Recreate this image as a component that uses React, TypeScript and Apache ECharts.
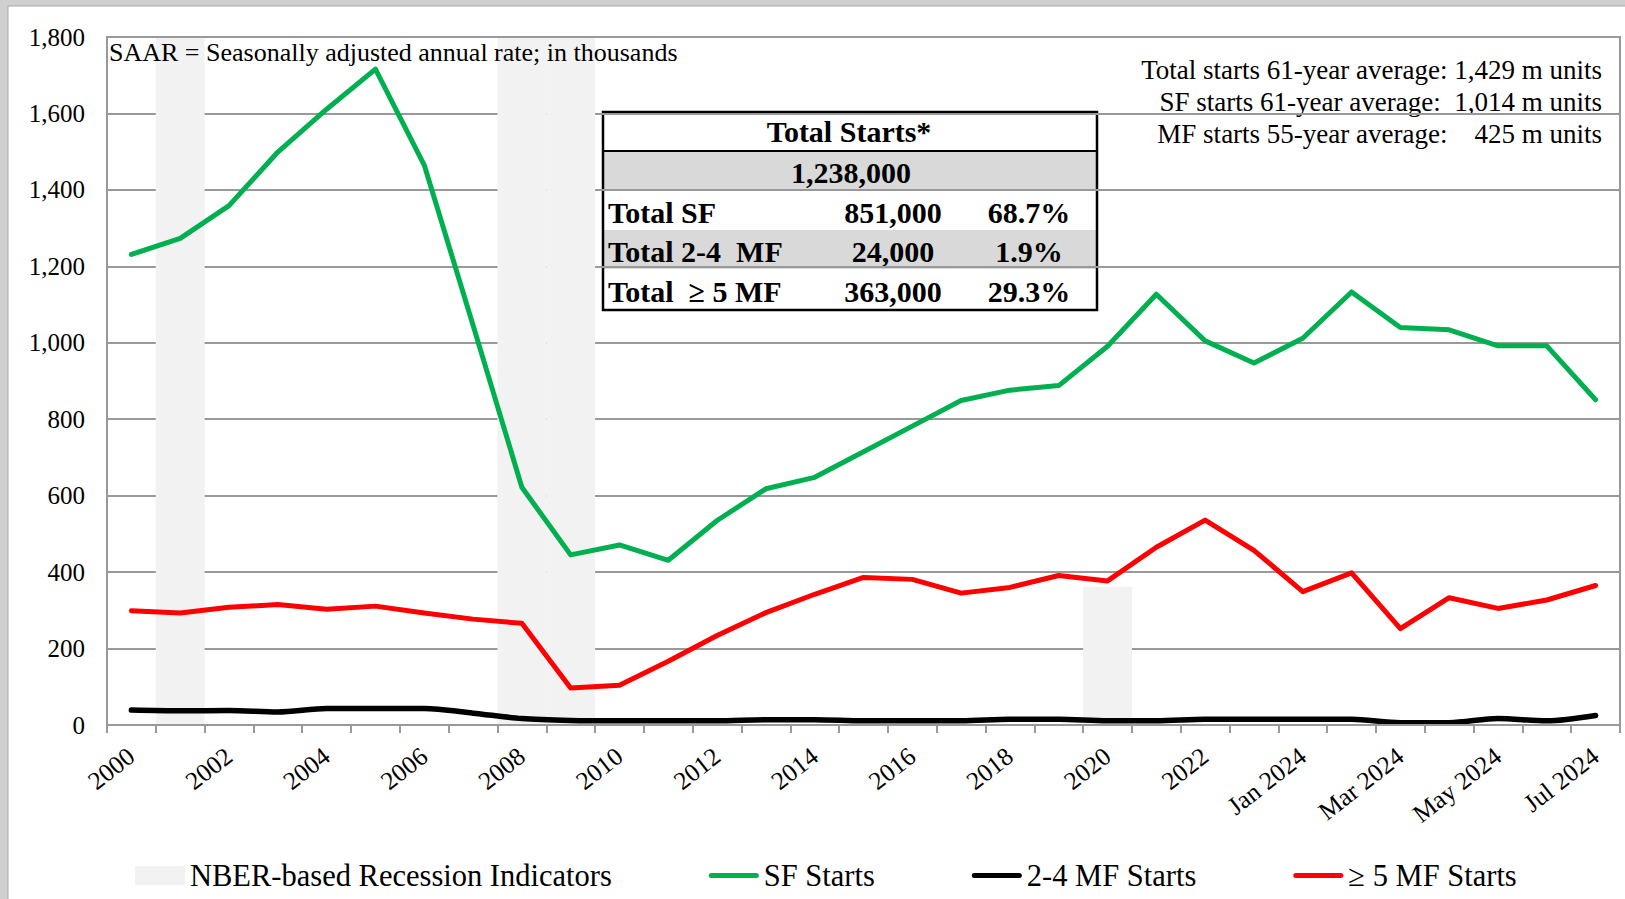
import React, { useEffect, useRef } from "react";
import * as echarts from "echarts";

const categories = [
  "2000", "2001", "2002", "2003", "2004", "2005", "2006", "2007", "2008", "2009",
  "2010", "2011", "2012", "2013", "2014", "2015", "2016", "2017", "2018", "2019",
  "2020", "2021", "2022", "2023",
  "Jan 2024", "Feb 2024", "Mar 2024", "Apr 2024", "May 2024", "Jun 2024", "Jul 2024",
];

const sfStarts = [
  1231, 1273, 1359, 1499, 1611, 1716, 1465, 1046, 622, 445,
  471, 431, 535, 618, 648, 715, 782, 849, 876, 888,
  991, 1127, 1005, 947,
  1012, 1133, 1040, 1034, 992, 992, 851,
];

const mf24Starts = [
  39, 37, 38, 34, 43, 43, 43, 31, 17, 12,
  11, 11, 11, 14, 14, 11, 11, 11, 15, 15,
  11, 11, 15, 15,
  15, 15, 6, 6, 17, 11, 25,
];

const mf5Starts = [
  299, 293, 308, 315, 303, 311, 293, 277, 266, 97,
  104, 167, 234, 294, 342, 386, 381, 345, 360, 391,
  377, 465, 536, 457,
  349, 398, 252, 333, 305, 327, 365,
];

// NBER recession indicator bars (height in chart units), null = no recession
const recession = [
  null, 1800, null, null, null, null, null, null, 1800, 1800,
  null, null, null, null, null, null, null, null, null, null,
  362, null, null, null,
  null, null, null, null, null, null, null,
];

const yMin = 0;
const yMax = 1800;
const yStep = 200;

const tableTitle = "Total Starts*";
const tableTotal = "1,238,000";
const tableRows = [
  ["Total SF", "851,000", "68.7%"],
  ["Total 2-4  MF", "24,000", "1.9%"],
  ["Total  \u2265 5 MF", "363,000", "29.3%"],
];

const noteText = "SAAR = Seasonally adjusted annual rate; in thousands";
const averageNotes = [
  "Total starts 61-year average: 1,429 m units",
  "SF starts 61-year average:\u00a0\u00a01,014 m units",
  "MF starts 55-year average:\u00a0\u00a0\u00a0\u00a0425 m units",
];

const seriesNames = {
  rec: "NBER-based Recession Indicators",
  sf: "SF Starts",
  mf24: "2-4 MF Starts",
  mf5: "\u2265 5 MF Starts",
};

const FONT = "'Liberation Serif', 'Times New Roman', serif";
const LINE_ICON = "path://M2.5,0 L47.5,0 A2.5,2.5 0 0 1 47.5,5 L2.5,5 A2.5,2.5 0 0 1 2.5,0 Z";

export default function App() {
  const ref = useRef<HTMLDivElement>(null);

  useEffect(() => {
    if (!ref.current) return;
    const chart = echarts.init(ref.current, undefined, { renderer: "svg" });

    const tX = 603, tW = 494;
    const rowEdges = [112, 151, 190, 230, 269, 310];
    const rowMid = (i: number) => (rowEdges[i] + rowEdges[i + 1]) / 2 + (i === 0 ? 0 : 2);
    const boldFont = `bold 30px ${FONT}`;

    const tableChildren: any[] = [
      { type: "rect", shape: { x: tX, y: rowEdges[0], width: tW, height: rowEdges[5] - rowEdges[0] }, style: { fill: "#ffffff" } },
      { type: "rect", shape: { x: tX, y: rowEdges[1], width: tW, height: rowEdges[2] - rowEdges[1] }, style: { fill: "#d9d9d9" } },
      { type: "rect", shape: { x: tX, y: rowEdges[3], width: tW, height: rowEdges[4] - rowEdges[3] }, style: { fill: "#d9d9d9" } },
      { type: "line", shape: { x1: tX, y1: rowEdges[1], x2: tX + tW, y2: rowEdges[1] }, style: { stroke: "#000", lineWidth: 2 } },
      { type: "line", shape: { x1: tX, y1: rowEdges[2], x2: tX + tW, y2: rowEdges[2] }, style: { stroke: "#000", lineWidth: 2 } },
      { type: "rect", shape: { x: tX, y: rowEdges[0], width: tW, height: rowEdges[5] - rowEdges[0] }, style: { fill: "none", stroke: "#000", lineWidth: 2.5 } },
      { type: "text", x: 849, y: rowMid(0), style: { text: tableTitle, font: boldFont, fill: "#000", align: "center", verticalAlign: "middle" } },
      { type: "text", x: 851, y: rowMid(1), style: { text: tableTotal, font: boldFont, fill: "#000", align: "center", verticalAlign: "middle" } },
    ];
    tableRows.forEach((r, i) => {
      const y = rowMid(i + 2);
      tableChildren.push(
        { type: "text", x: 608, y, style: { text: r[0], font: boldFont, fill: "#000", align: "left", verticalAlign: "middle" } },
        { type: "text", x: 893, y, style: { text: r[1], font: boldFont, fill: "#000", align: "center", verticalAlign: "middle" } },
        { type: "text", x: 1029, y, style: { text: r[2], font: boldFont, fill: "#000", align: "center", verticalAlign: "middle" } },
      );
    });

    const noteChildren: any[] = averageNotes.map((t, i) => ({
      type: "text",
      x: 1602,
      y: 70 + i * 32,
      style: { text: t, font: `27px ${FONT}`, fill: "#000", align: "right", verticalAlign: "middle" },
    }));

    const option: any = {
      animation: false,
      backgroundColor: "#cfcfcf",
      grid: {
        left: 107,
        right: 5,
        top: 37,
        bottom: 174,
        show: true,
        z: 10,
        borderColor: "#999",
        borderWidth: 2,
        backgroundColor: "transparent",
      },
      xAxis: {
        type: "category",
        data: categories,
        boundaryGap: true,
        axisLine: { lineStyle: { color: "#999", width: 2 } },
        axisTick: { show: true, interval: 0, length: 8, lineStyle: { color: "#999", width: 2 } },
        axisLabel: {
          interval: 1,
          rotate: 38,
          margin: 28,
          fontFamily: FONT,
          fontSize: 25.5,
          color: "#000",
        },
        splitLine: { show: false },
      },
      yAxis: {
        type: "value",
        min: yMin,
        max: yMax,
        interval: yStep,
        axisLine: { show: true, lineStyle: { color: "#999", width: 2 } },
        axisTick: { show: false },
        axisLabel: {
          margin: 22,
          fontFamily: FONT,
          fontSize: 25,
          color: "#000",
          formatter: (v: number) => v.toLocaleString("en-US"),
        },
        splitLine: { show: true, lineStyle: { color: "#999", width: 2 } },
      },
      legend: {
        left: 135,
        top: 860,
        padding: 0,
        itemGap: 97,
        itemWidth: 50,
        itemHeight: 19,
        textStyle: { fontFamily: FONT, fontSize: 30.5, color: "#000" },
        data: [
          { name: seriesNames.rec, icon: "rect" },
          { name: seriesNames.sf, icon: LINE_ICON },
          { name: seriesNames.mf24, icon: LINE_ICON },
          { name: seriesNames.mf5, icon: LINE_ICON },
        ],
      },
      series: [
        {
          name: seriesNames.rec,
          type: "bar",
          data: recession,
          barWidth: "100%",
          itemStyle: { color: "#f2f2f2" },
          z: 1,
        },
        {
          name: seriesNames.sf,
          type: "line",
          data: sfStarts,
          symbol: "none",
          lineStyle: { color: "#00b050", width: 5, cap: "round", join: "round" },
          itemStyle: { color: "#00b050" },
          z: 5,
        },
        {
          name: seriesNames.mf24,
          type: "line",
          data: mf24Starts,
          symbol: "none",
          smooth: 0.3,
          lineStyle: { color: "#000000", width: 5.5, cap: "round", join: "round" },
          itemStyle: { color: "#000000" },
          z: 5,
        },
        {
          name: seriesNames.mf5,
          type: "line",
          data: mf5Starts,
          symbol: "none",
          lineStyle: { color: "#ff0000", width: 5, cap: "round", join: "round" },
          itemStyle: { color: "#ff0000" },
          z: 5,
        },
      ],
      graphic: [
        {
          type: "rect",
          z: -10,
          shape: { x: 8, y: 6, width: 1625, height: 900 },
          style: { fill: "#ffffff", stroke: "#a8a8a8", lineWidth: 1 },
        },
        {
          type: "text",
          z: 50,
          x: 109,
          y: 52,
          style: { text: noteText, font: `26px ${FONT}`, fill: "#000", align: "left", verticalAlign: "middle" },
        },
        { type: "group", z: 50, children: noteChildren },
        { type: "group", z: 100, children: tableChildren },
      ],
    };

    chart.setOption(option);
    return () => chart.dispose();
  }, []);

  return (
    <div
      ref={ref}
      style={{ position: "absolute", left: 0, top: 0, width: 1625, height: 899 }}
    />
  );
}
